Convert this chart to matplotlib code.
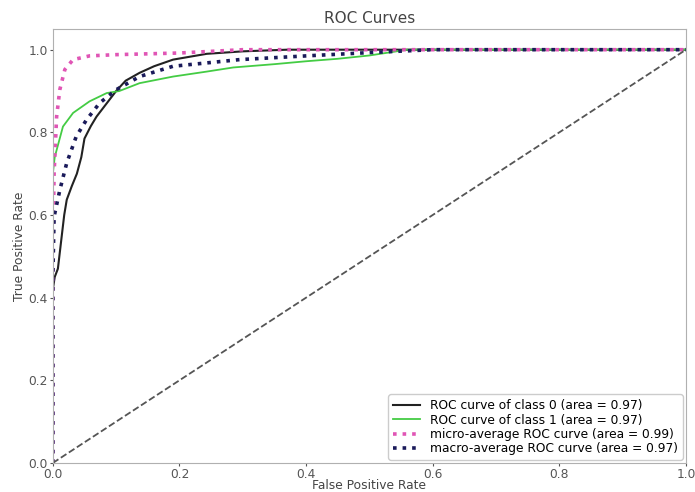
import matplotlib
matplotlib.use("Agg")
import matplotlib.pyplot as plt

# ROC data
fpr_class0 = [0.0, 0.0, 0.003, 0.008, 0.014, 0.018, 0.022, 0.03, 0.038, 0.045, 0.05, 0.06, 0.069, 0.085, 0.1, 0.115, 0.137, 0.16, 0.19, 0.243, 0.3, 0.37, 1.0]
tpr_class0 = [0.0, 0.42, 0.45, 0.47, 0.548, 0.6, 0.637, 0.67, 0.7, 0.74, 0.785, 0.815, 0.838, 0.87, 0.9, 0.925, 0.944, 0.96, 0.976, 0.99, 0.996, 1.0, 1.0]

fpr_class1 = [0.0, 0.0, 0.003, 0.016, 0.032, 0.058, 0.085, 0.105, 0.137, 0.19, 0.243, 0.285, 0.35, 0.4, 0.45, 0.5, 0.56, 1.0]
tpr_class1 = [0.0, 0.7, 0.74, 0.814, 0.847, 0.875, 0.895, 0.9, 0.919, 0.935, 0.947, 0.957, 0.965, 0.972, 0.978, 0.986, 1.0, 1.0]

fpr_micro = [0.0, 0.0, 0.002, 0.006, 0.011, 0.019, 0.032, 0.058, 0.1, 0.2, 0.3, 1.0]
tpr_micro = [0.0, 0.5, 0.7, 0.838, 0.903, 0.952, 0.976, 0.985, 0.988, 0.992, 1.0, 1.0]

fpr_macro = [0.0, 0.0, 0.002, 0.011, 0.022, 0.037, 0.053, 0.074, 0.1, 0.137, 0.19, 0.243, 0.295, 0.4, 0.5, 0.6, 1.0]
tpr_macro = [0.0, 0.45, 0.596, 0.66, 0.726, 0.79, 0.83, 0.871, 0.903, 0.935, 0.96, 0.968, 0.976, 0.985, 0.993, 1.0, 1.0]

labels = [
    "ROC curve of class 0 (area = 0.97)",
    "ROC curve of class 1 (area = 0.97)",
    "micro-average ROC curve (area = 0.99)",
    "macro-average ROC curve (area = 0.97)",
]

fig = plt.figure(figsize=(6.95, 4.92), dpi=100)
ax = fig.add_axes([0.076, 0.059, 0.911, 0.882])

ax.plot(fpr_class0, tpr_class0, lw=1.5, color="#222222", label=labels[0])
ax.plot(fpr_class1, tpr_class1, lw=1.3, color="#44cc44", label=labels[1])
ax.plot(fpr_micro, tpr_micro, color="#e055b5", linestyle=":", lw=2.6, label=labels[2])
ax.plot(fpr_macro, tpr_macro, color="#1a1a5a", linestyle=":", lw=2.6, label=labels[3])
ax.plot([0, 1], [0, 1], linestyle="--", color="#555555", lw=1.3)

ax.set_xlim(0.0, 1.0)
ax.set_ylim(0.0, 1.05)
ax.set_title("ROC Curves", fontsize=11, color="#444444", pad=4)
ax.set_xlabel("False Positive Rate", fontsize=8.8, color="#444444", labelpad=-1)
ax.set_ylabel("True Positive Rate", fontsize=8.8, color="#444444", labelpad=2)
ax.tick_params(labelsize=8.8, colors="#555555", length=2, pad=1.5)
for s in ax.spines.values():
    s.set_color("#b0b0b0")
ax.legend(loc="lower right", fontsize=8.8, frameon=True, edgecolor="#cccccc",
          framealpha=1, borderaxespad=0.25, labelspacing=0.1, handlelength=2.2)

fig.savefig("out.png", dpi=100)
